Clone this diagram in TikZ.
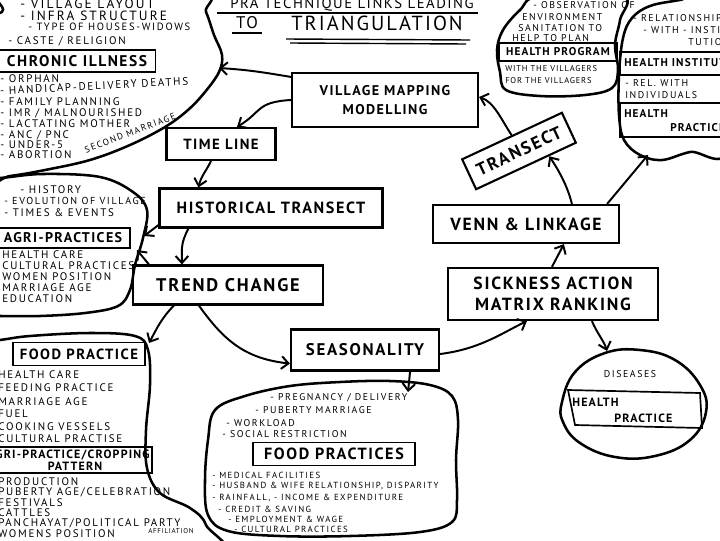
\documentclass[tikz,border=0pt]{standalone}
\usepackage{fontspec}
\setmainfont{PT Sans}[LetterSpace=10.0]
\newfontfamily\widehand{PT Sans}[LetterSpace=16.0]
\usetikzlibrary{calc,arrows.meta}

\begin{document}
\begin{tikzpicture}[x=0.025cm,y=-0.025cm,
  box/.style={draw,line width=1.5pt,font=\bfseries,align=center,inner sep=0pt},
  tag/.style={draw,line width=1.2pt,font=\bfseries,inner sep=0pt},
  blob/.style={line width=1.8pt,line join=round},
  note/.style={anchor=west,inner sep=0pt,font=\widehand\fontsize{7.8}{9}\selectfont},
  uline/.style={line width=1pt},
  link/.style={line width=1.4pt,-{Straight Barb[length=5pt,width=9pt]}}]
\useasboundingbox (0,0) rectangle (720,540);
\clip (0,0) rectangle (720,540);

% title
\node[font=\fontsize{10.5}{11}\selectfont] (ttl) at (352,5) {PRA TECHNIQUE LINKS LEADING};
\node[font=\fontsize{12}{13}\selectfont] (to) at (247,23) {TO};
\node[font=\fontsize{14.5}{15}\selectfont] (tri) at (377,23) {TRIANGULATION};
\draw[uline] (217,13) -- (478,13);
\draw[uline] (232,33) -- (262,33);
\draw[uline] (286,39) -- (470,40);
\draw[uline] (290,43) -- (466,44);

% blobs
\draw[blob] plot[smooth cycle,tension=0.6] coordinates {(12,-8) (195,-8) (206,12) (214,35) (222,55) (219,72) (205,92) (188,110) (165,127) (130,145) (90,160) (45,170) (10,176) (-30,180) (-30,30) (2,12)};
\draw[blob] plot[smooth cycle,tension=0.6] coordinates {(540,-4) (520,10) (503,30) (497,50) (500,72) (506,90) (540,96) (585,95) (612,88) (618,70) (615,45) (620,20) (622,-4)};
\draw[blob] plot[smooth cycle,tension=0.6] coordinates {(730,-8) (680,0) (650,6) (632,18) (623,38) (619,75) (619,115) (624,140) (640,155) (662,160) (690,152) (730,146)};
\draw[blob] plot[smooth cycle,tension=0.6] coordinates {(-40,180) (0,178) (43,174) (100,177) (133,192) (147,210) (143,238) (135,265) (130,290) (118,306) (85,313) (40,316) (0,316) (-40,316)};
\draw[blob] plot[smooth cycle,tension=0.6] coordinates {(-40,345) (0,340) (30,336) (90,333) (135,336) (148,350) (150,385) (146,430) (147,468) (160,493) (190,508) (206,525) (210,560) (-40,560)};
\draw[blob] plot[smooth cycle,tension=0.6] coordinates {(215,410) (245,396) (290,386) (340,382) (390,381) (430,385) (452,396) (458,420) (456,460) (457,500) (452,522) (420,532) (350,536) (280,536) (228,531) (208,515) (205,480) (208,440)};
\draw[blob] plot[smooth cycle,tension=0.7] coordinates {(562,402) (575,372) (605,353) (640,350) (675,360) (700,385) (706,412) (690,440) (655,456) (615,457) (580,443) (563,422)};

% blob ends of the links
\coordinate (c1) at (219,68);
\coordinate (c3) at (648,155);
\coordinate (c4a) at (144,236);
\coordinate (c4b) at (137,250);
\coordinate (c5) at (149,343);
\coordinate (c6) at (408,392);
\coordinate (c7) at (607,351);

% main boxes
\node[box,minimum width=4.65cm,minimum height=1.35cm,font=\bfseries\fontsize{10}{13}\selectfont] (vmm) at (385,100) {VILLAGE MAPPING\\MODELLING};
\node[box,minimum width=2.725cm,minimum height=0.8cm,font=\bfseries\fontsize{10.5}{11}\selectfont] (tl) at (221,144) {TIME LINE};
\node[box,minimum width=5.575cm,minimum height=0.975cm,font=\bfseries\fontsize{11.5}{12}\selectfont] (ht) at (271,208) {HISTORICAL TRANSECT};
\node[box,minimum width=4.75cm,minimum height=0.975cm,font=\bfseries\fontsize{13}{14}\selectfont] (tc) at (228,285) {TREND CHANGE};
\node[box,minimum width=3.7cm,minimum height=1.025cm,font=\bfseries\fontsize{12}{13}\selectfont] (seas) at (365,350) {SEASONALITY};
\node[box,minimum width=5.25cm,minimum height=1.3cm,font=\bfseries\fontsize{12.5}{15}\selectfont] (samr) at (553,294) {SICKNESS ACTION\\MATRIX RANKING};
\node[box,minimum width=4.65cm,minimum height=0.95cm,font=\bfseries\fontsize{12.5}{13}\selectfont] (venn) at (526,224) {VENN \& LINKAGE};
\node[box,rotate=25,minimum width=2.75cm,minimum height=0.825cm,font=\bfseries\fontsize{12.5}{13}\selectfont] (tr) at (519,151) {TRANSECT};

% links
\draw[link] (vmm.west) .. controls +(-35,2) and +(25,-15) .. ($(tl.north)+(16,0)$);
\draw[link] ($(vmm.north west)+(0,5)$) .. controls +(-30,-5) and +(30,2) .. (c1);
\draw[link] ($(tl.south)+(-10,0)$) .. controls +(-6,12) and +(3,-12) .. ($(ht.north west)+(40,0)$);
\draw[link] ($(ht.south west)+(30,0)$) .. controls +(-8,15) and +(0,-15) .. ($(tc.north west)+(50,0)$);
\draw[link] ($(ht.south west)+(2,-5)$) -- (c4a);
\draw[link] ($(tc.north west)+(17,0)$) -- (c4b);
\draw[link] ($(tc.south west)+(42,0)$) .. controls +(-12,12) and +(8,-15) .. (c5);
\draw[link] ($(tc.south west)+(67,0)$) .. controls +(25,35) and +(-45,-5) .. ($(seas.south west)+(0,-8)$);
\draw[link] ($(seas.south east)+(-30,0)$) -- (c6);
\draw[link] ($(seas.east)+(0,4)$) .. controls +(40,-5) and +(-25,12) .. ($(samr.south west)+(80,0)$);
\draw[link] ($(samr.north west)+(105,0)$) -- ($(venn.south west)+(132,0)$);
\draw[link] ($(samr.south west)+(145,0)$) .. controls +(5,12) and +(-3,-10) .. (c7);
\draw[link] ($(venn.north west)+(140,0)$) .. controls +(-5,-20) and +(8,12) .. ($(tr.south)!0.45!(tr.south east)$);
\draw[link] ($(venn.north east)+(-13,0)$) -- (c3);
\draw[link] (tr.north) .. controls +(-10,-15) and +(15,5) .. ($(vmm.east)+(0,-3)$);

% top left notes
\node[note,font=\widehand\fontsize{9.5}{10}\selectfont] (v1) at (20,4) {- VILLAGE LAYOUT};
\node[note,font=\widehand\fontsize{9.5}{10}\selectfont] (v2) at (20,16) {- INFRA STRUCTURE};
\node[note,font=\widehand\fontsize{7.5}{8}\selectfont] (v3) at (28,27) {- TYPE OF HOUSES-WIDOWS};
\node[note] (v4) at (8,41) {- CASTE / RELIGION};
\node[tag,minimum width=3.925cm,minimum height=0.55cm,font=\bfseries\fontsize{11}{12}\selectfont] (ci) at (77,61) {CHRONIC ILLNESS};
\foreach \y/\t in {79/- ORPHAN,102/- FAMILY PLANNING,113/{- IMR / MALNOURISHED},124/- LACTATING MOTHER,135/{- ANC / PNC},145/- UNDER-5,155/- ABORTION}
  \node[note] (ci-\y) at (0,\y) {\t};
\node[note,rotate=3] (ci-90) at (0,91) {- HANDICAP-DELIVERY DEATHS};
\node[inner sep=0pt,rotate=21,font=\widehand\fontsize{6.5}{7}\selectfont] (sm) at (130,133) {SECOND MARRIAGE};

% health program notes
\node[note,font=\widehand\fontsize{7}{8}\selectfont] (hp1) at (533,5) {- OBSERVATION OF};
\node[note,font=\widehand\fontsize{7}{8}\selectfont] (hp2) at (522,17) {ENVIRONMENT};
\node[note,font=\widehand\fontsize{7}{8}\selectfont] (hp3) at (518,28) {SANITATION TO};
\node[note,font=\widehand\fontsize{7}{8}\selectfont] (hp4) at (512,38) {HELP TO PLAN};
\node[tag,minimum width=2.95cm,minimum height=0.45cm,font=\bfseries\fontsize{8}{9}\selectfont] (hp) at (558,52) {HEALTH PROGRAM};
\node[note,font=\fontsize{6}{7}\selectfont] (hp5) at (505,69) {WITH THE VILLAGERS};
\node[note,font=\fontsize{6}{7}\selectfont] (hp6) at (505,81) {FOR THE VILLAGERS};

% right notes
\node[note,font=\widehand\fontsize{7}{8}\selectfont] (hi1) at (633,18) {- RELATIONSHIP};
\node[note,font=\widehand\fontsize{7}{8}\selectfont] (hi2) at (643,30) {- WITH - INSTI};
\node[note,font=\widehand\fontsize{7}{8}\selectfont] (hi3) at (688,42) {TUTION};
\draw[line width=1.2pt] (620,52) rectangle (730,75);
\node[note,font=\bfseries\fontsize{8}{9}\selectfont] (hi) at (624,63) {HEALTH INSTITUTION};
\node[note,font=\widehand\fontsize{7}{8}\selectfont] (hi4) at (625,83) {- REL. WITH};
\node[note,font=\widehand\fontsize{7}{8}\selectfont] (hi5) at (625,95) {INDIVIDUALS};
\draw[line width=1.2pt] (620,103) rectangle (730,137);
\node[note,font=\bfseries\fontsize{8}{9}\selectfont] (hpr1) at (624,114) {HEALTH};
\node[note,font=\bfseries\fontsize{8}{9}\selectfont] (hpr2) at (670,128) {PRACTICES};

% history notes
\node[note] (h1) at (20,190) {- HISTORY};
\node[note,font=\widehand\fontsize{7.2}{8}\selectfont] (h2) at (4,201) {- EVOLUTION OF VILLAGE};
\node[note] (h3) at (4,213) {- TIMES \& EVENTS};
\node[tag,minimum width=3.35cm,minimum height=0.5cm,font=\bfseries\fontsize{10}{11}\selectfont] (ap) at (63,238) {AGRI-PRACTICES};
\foreach \y/\t in {255/HEALTH CARE,266/CULTURAL PRACTICES,277/WOMEN POSITION,288/MARRIAGE AGE,299/EDUCATION}
  \node[note] (ap-\y) at (2,\y) {\t};

% food practice notes
\node[tag,minimum width=3.3cm,minimum height=0.575cm,font=\bfseries\fontsize{10.5}{11}\selectfont] (fp) at (79,354) {FOOD PRACTICE};
\foreach \y/\t in {375/HEALTH CARE,388/FEEDING PRACTICE,402/MARRIAGE AGE,414/FUEL,427/COOKING VESSELS,439/CULTURAL PRACTISE,482/PRODUCTION,492/{PUBERTY AGE/CELEBRATION},503/FESTIVALS,513/CATTLES,523/{PANCHAYAT/POLITICAL PARTY},534/WOMENS POSITION}
  \node[note] (fp-\y) at (-2,\y) {\t};
\draw[line width=1.2pt] (-5,447) rectangle (152,473);
\node[inner sep=0pt,anchor=east,font=\bfseries\fontsize{8.5}{9}\selectfont] (cp1) at (150,455) {AGRI-PRACTICE/CROPPING};
\node[inner sep=0pt,font=\bfseries\fontsize{8.5}{9}\selectfont] (cp2) at (75,466) {PATTERN};
\node[note,font=\fontsize{5}{6}\selectfont] (aff) at (148,531) {AFFILIATION};

% seasonality notes
\node[note,font=\widehand\fontsize{7}{8}\selectfont] (s1) at (270,398) {- PREGNANCY / DELIVERY};
\node[note,font=\widehand\fontsize{7}{8}\selectfont] (s2) at (255,410) {- PUBERTY MARRIAGE};
\node[note,font=\widehand\fontsize{7}{8}\selectfont] (s3) at (226,423) {- WORKLOAD};
\node[note,font=\widehand\fontsize{7}{8}\selectfont] (s4) at (222,434) {- SOCIAL RESTRICTION};
\node[tag,minimum width=4.05cm,minimum height=0.575cm,font=\bfseries\fontsize{11.5}{12}\selectfont] (fps) at (334,454) {FOOD PRACTICES};
\foreach \x/\y/\t in {212/475/- MEDICAL FACILITIES,212/486/{- HUSBAND \& WIFE RELATIONSHIP, DISPARITY},212/498/{- RAINFALL, - INCOME \& EXPENDITURE},218/509/- CREDIT \& SAVING,228/519/- EMPLOYMENT \& WAGE,234/529/- CULTURAL PRACTICES}
  \node[note,font=\widehand\fontsize{6.3}{7}\selectfont] (fps-\y) at (\x,\y) {\t};

% diseases
\node[inner sep=0pt,font=\widehand\fontsize{7}{8}\selectfont] (dis) at (630,374) {DISEASES};
\draw[line width=1.2pt] (568,390) -- (700,393) -- (702,428) -- (575,425) -- cycle;
\node[note,font=\bfseries\fontsize{8.5}{9}\selectfont] (dh1) at (572,402) {HEALTH};
\node[note,font=\bfseries\fontsize{8.5}{9}\selectfont] (dh2) at (614,418) {PRACTICE};
\end{tikzpicture}
\end{document}
